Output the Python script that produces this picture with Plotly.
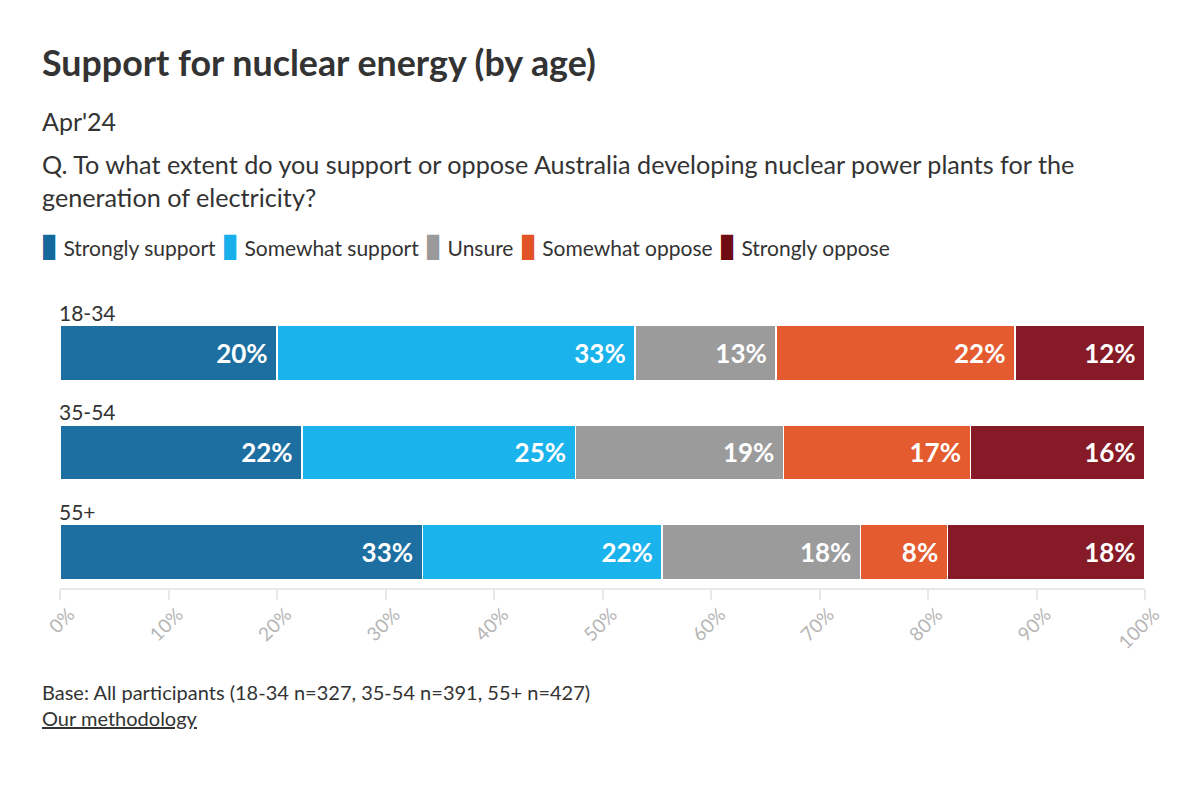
import plotly.graph_objects as go

categories = ["18-34", "35-54", "55+"]
series_names = ["Strongly support", "Somewhat support", "Unsure", "Somewhat oppose", "Strongly oppose"]
strongly_support = [20.0, 22.3, 33.4]
somewhat_support = [33.0, 25.2, 22.1]
unsure = [13.0, 19.2, 18.3]
somewhat_oppose = [22.0, 17.2, 8.0]
strongly_oppose = [12.0, 16.1, 18.2]
series_values = [strongly_support, somewhat_support, unsure, somewhat_oppose, strongly_oppose]
bar_colors = ["#1c6fa0", "#1bb3ec", "#9b9b9b", "#e45b2f", "#861b27"]
legend_colors = ["#14689b", "#17b0ea", "#9a9a9a", "#e25325", "#6f0b12"]
tick_vals = [0, 10, 20, 30, 40, 50, 60, 70, 80, 90, 100]
tick_text = [f"{v}%" for v in tick_vals]

FONT = "Lato"
OFF = 8  # page offset of the figure in the screenshot
W, H = 1200, 788
L, R, T, B = 60 - OFF, 1200 - (1145 - OFF), 303 - OFF, 788 - (588 - OFF)
pw = W - L - R
ph = H - T - B


def px(x):
    return (x - OFF - L) / pw


def py(y):
    return (H - B - (y - OFF)) / ph


fig = go.Figure()
for name, vals, col in zip(series_names, series_values, bar_colors):
    fig.add_trace(go.Bar(
        y=categories, x=vals, name=name, orientation="h",
        marker=dict(color=col, line=dict(color="white", width=1.5)),
        text=[f"{round(v)}%\u00a0" for v in vals],
        textposition="inside", insidetextanchor="end",
        textfont=dict(family=FONT, size=26, color="white", weight="bold"),
        width=0.555, hoverinfo="skip", showlegend=False,
    ))

annotations = []


def note(text, x, y, size, **kw):
    d = dict(text=text, x=px(x), y=py(y), xref="paper", yref="paper", xanchor="left",
             yanchor="middle", align="left", showarrow=False,
             font=dict(family=FONT, size=size, color="#333333"))
    d.update(kw)
    annotations.append(d)


note("<b>Support for nuclear energy (by age)</b>", 40, 62, 35.8)
note("Apr'24", 40, 121, 25)
note("Q. To what extent do you support or oppose Australia developing nuclear power plants for the<br>generation of electricity?", 40, 180, 25.2)
legend_html = "\u00a0".join(
    f"<span style='color:{c};font-size:33px'>▮</span>\u00a0{n}" for n, c in zip(series_names, legend_colors)
)
note(legend_html, 38, 243, 21)
note("Base: All participants (18-34 n=327, 35-54 n=391, 55+ n=427)<br><u>Our methodology</u>", 40, 705, 20)

for c in categories:
    annotations.append(dict(text=c, x=0, y=c, xref="paper", yref="y", xanchor="left",
                            yanchor="bottom", yshift=26, xshift=-3, showarrow=False,
                            font=dict(family=FONT, size=21, color="#333333")))

fig.update_layout(
    width=W, height=H, barmode="stack",
    margin=dict(l=L, r=R, t=T, b=B),
    paper_bgcolor="white", plot_bgcolor="white",
    font=dict(family=FONT),
    annotations=annotations,
    xaxis=dict(range=[0, 100], tickvals=tick_vals, ticktext=tick_text, tickangle=-45,
               showgrid=False, zeroline=False, showline=True, linecolor="#e8e8e8", linewidth=2,
               ticks="outside", ticklen=10, tickcolor="#e8e8e8", tickwidth=2,
               ticklabelshift=9, ticklabelstandoff=-4,
               tickfont=dict(family=FONT, size=19, color="#b5b5b5")),
    yaxis=dict(type="category", categoryorder="array", categoryarray=categories,
               range=[2.36, -0.5], showticklabels=False, showgrid=False, zeroline=False,
               showline=False, ticks=""),
)

fig.write_html("out.html")
